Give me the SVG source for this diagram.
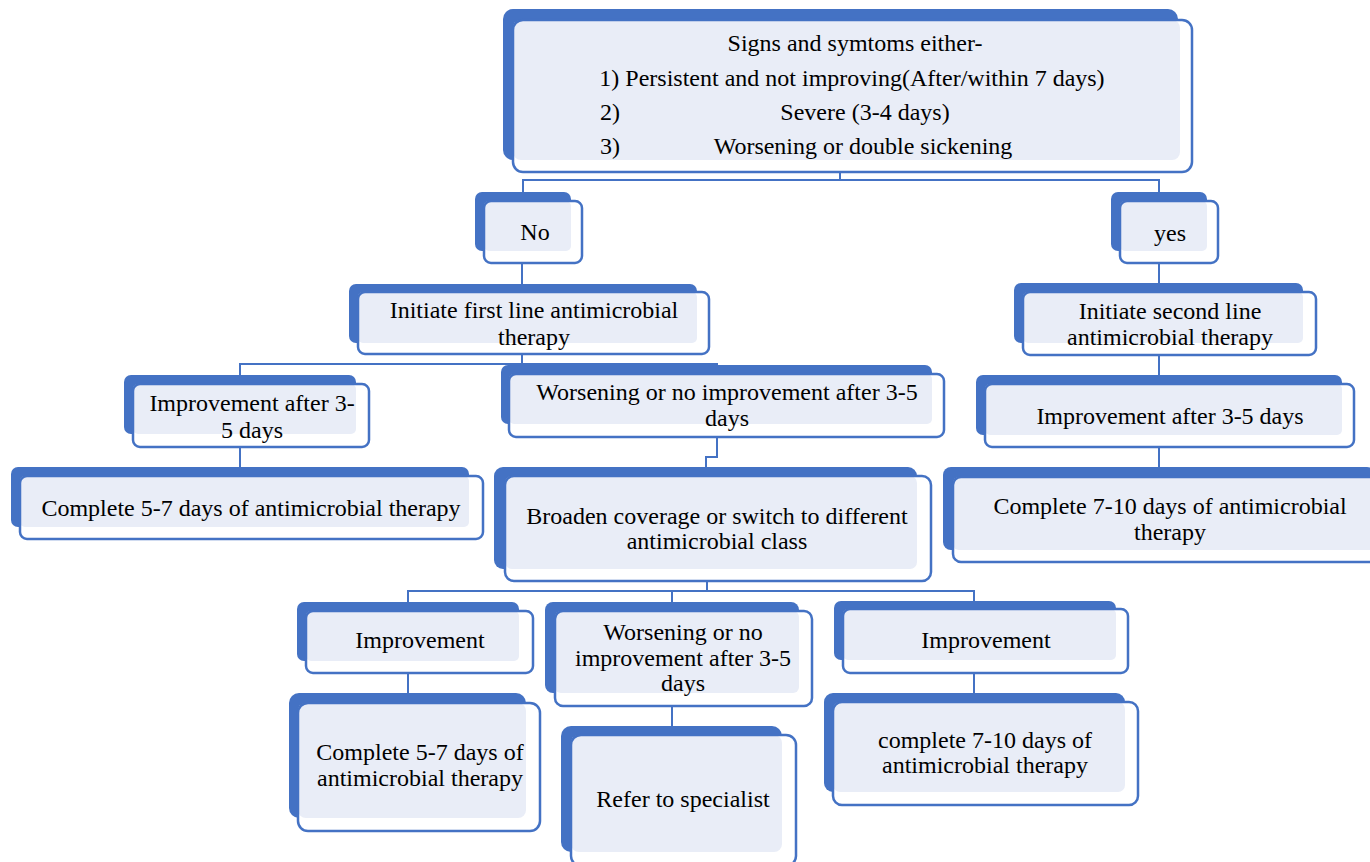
<svg xmlns="http://www.w3.org/2000/svg" width="1370" height="862" viewBox="0 0 1370 862">
  <style>
    .back { fill: #4472C4; }
    .face { fill: #FFFFFF; }
    .tint { fill: #E9EDF7; }
    .edge { fill: none; stroke: #4472C4; stroke-width: 2.5; }
    .link { fill: none; stroke: #4472C4; stroke-width: 2; }
    text { font-family: 'Liberation Serif', 'DejaVu Serif', serif; font-size: 24px; fill: #000000; text-anchor: middle; }
    text.l { text-anchor: start; }
  </style>
  <rect width="1370" height="862" fill="#FFFFFF"/>

  <!-- connectors -->
  <g id="connectors">
    <path class="link" d="M840,172 V180 M523,192 V180 H1159 V192"/>
    <path class="link" d="M522,263 V284"/>
    <path class="link" d="M1159,263 V283"/>
    <path class="link" d="M522,354 V364 M240,375 V364 H717 V366"/>
    <path class="link" d="M240,447 V467"/>
    <path class="link" d="M717,437 V457 H706 V467"/>
    <path class="link" d="M1159,355 V375"/>
    <path class="link" d="M1159,447 V467"/>
    <path class="link" d="M707,581 V591 M408,602 V591 H974 V601 M672,591 V602"/>
    <path class="link" d="M408,673 V693"/>
    <path class="link" d="M672,706 V726"/>
    <path class="link" d="M974,673 V693"/>
  </g>

  <!-- each node: solid backing card, white face card, tinted overlap, outline -->
  <g id="n-signs">
    <rect class="back" x="503" y="9" width="675" height="151" rx="10"/>
    <rect class="face" x="513" y="20" width="679" height="152" rx="10"/>
    <rect class="tint" x="513" y="20" width="667" height="140" rx="8"/>
    <rect class="edge" x="513" y="20" width="679" height="152" rx="10"/>
    <text x="855" y="51">Signs and symtoms either-</text>
    <text x="852" y="86">1) Persistent and not improving(After/within 7 days)</text>
    <text class="l" x="600" y="120">2)</text>
    <text x="865" y="120">Severe (3-4 days)</text>
    <text class="l" x="600" y="154">3)</text>
    <text x="863" y="154">Worsening or double sickening</text>
  </g>

  <g id="n-no">
    <rect class="back" x="475" y="192" width="96" height="59" rx="7"/>
    <rect class="face" x="484" y="201" width="98" height="62" rx="7"/>
    <rect class="tint" x="484" y="201" width="87" height="50" rx="5"/>
    <rect class="edge" x="484" y="201" width="98" height="62" rx="7"/>
    <text x="535" y="240">No</text>
  </g>

  <g id="n-yes">
    <rect class="back" x="1111" y="192" width="96" height="59" rx="7"/>
    <rect class="face" x="1120" y="201" width="98" height="62" rx="7"/>
    <rect class="tint" x="1120" y="201" width="87" height="50" rx="5"/>
    <rect class="edge" x="1120" y="201" width="98" height="62" rx="7"/>
    <text x="1170" y="241">yes</text>
  </g>

  <g id="n-first-line">
    <rect class="back" x="349" y="284" width="348" height="59" rx="7"/>
    <rect class="face" x="358" y="292" width="351" height="62" rx="7"/>
    <rect class="tint" x="358" y="292" width="339" height="51" rx="5"/>
    <rect class="edge" x="358" y="292" width="351" height="62" rx="7"/>
    <text x="534" y="318">Initiate first line antimicrobial</text>
    <text x="534" y="345">therapy</text>
  </g>

  <g id="n-second-line">
    <rect class="back" x="1014" y="283" width="289" height="60" rx="7"/>
    <rect class="face" x="1023" y="292" width="293" height="63" rx="7"/>
    <rect class="tint" x="1023" y="292" width="280" height="51" rx="5"/>
    <rect class="edge" x="1023" y="292" width="293" height="63" rx="7"/>
    <text x="1170" y="319">Initiate second line</text>
    <text x="1170" y="345">antimicrobial therapy</text>
  </g>

  <g id="n-improve-1">
    <rect class="back" x="124" y="375" width="232" height="59" rx="7"/>
    <rect class="face" x="133" y="384" width="236" height="63" rx="7"/>
    <rect class="tint" x="133" y="384" width="223" height="50" rx="5"/>
    <rect class="edge" x="133" y="384" width="236" height="63" rx="7"/>
    <text x="252" y="411">Improvement after 3-</text>
    <text x="252" y="438">5 days</text>
  </g>

  <g id="n-worse-1">
    <rect class="back" x="501" y="365" width="431" height="59" rx="7"/>
    <rect class="face" x="509" y="374" width="435" height="63" rx="7"/>
    <rect class="tint" x="509" y="374" width="423" height="50" rx="5"/>
    <rect class="edge" x="509" y="374" width="435" height="63" rx="7"/>
    <text x="727" y="400">Worsening or no improvement after 3-5</text>
    <text x="727" y="426">days</text>
  </g>

  <g id="n-improve-2">
    <rect class="back" x="976" y="375" width="366" height="60" rx="7"/>
    <rect class="face" x="985" y="384" width="369" height="63" rx="7"/>
    <rect class="tint" x="985" y="384" width="357" height="51" rx="5"/>
    <rect class="edge" x="985" y="384" width="369" height="63" rx="7"/>
    <text x="1170" y="424">Improvement after 3-5 days</text>
  </g>

  <g id="n-complete-5-7-a">
    <rect class="back" x="11" y="467" width="458" height="60" rx="7"/>
    <rect class="face" x="20" y="476" width="463" height="63" rx="7"/>
    <rect class="tint" x="20" y="476" width="449" height="51" rx="5"/>
    <rect class="edge" x="20" y="476" width="463" height="63" rx="7"/>
    <text x="251" y="516">Complete 5-7 days of antimicrobial therapy</text>
  </g>

  <g id="n-broaden">
    <rect class="back" x="494" y="467" width="423" height="102" rx="9"/>
    <rect class="face" x="505" y="476" width="426" height="105" rx="9"/>
    <rect class="tint" x="505" y="476" width="412" height="93" rx="7"/>
    <rect class="edge" x="505" y="476" width="426" height="105" rx="9"/>
    <text x="717" y="524">Broaden coverage or switch to different</text>
    <text x="717" y="549">antimicrobial class</text>
  </g>

  <g id="n-complete-7-10-a">
    <rect class="back" x="943" y="467" width="432" height="83" rx="8"/>
    <rect class="face" x="953" y="477" width="424" height="85" rx="8"/>
    <rect class="tint" x="953" y="477" width="422" height="73" rx="6"/>
    <rect class="edge" x="953" y="477" width="424" height="85" rx="8"/>
    <text x="1170" y="514">Complete 7-10 days of antimicrobial</text>
    <text x="1170" y="540">therapy</text>
  </g>

  <g id="n-improve-3">
    <rect class="back" x="297" y="602" width="222" height="59" rx="7"/>
    <rect class="face" x="306" y="611" width="227" height="62" rx="7"/>
    <rect class="tint" x="306" y="611" width="213" height="50" rx="5"/>
    <rect class="edge" x="306" y="611" width="227" height="62" rx="7"/>
    <text x="420" y="648">Improvement</text>
  </g>

  <g id="n-worse-2">
    <rect class="back" x="545" y="602" width="254" height="91" rx="8"/>
    <rect class="face" x="555" y="611" width="257" height="95" rx="8"/>
    <rect class="tint" x="555" y="611" width="244" height="82" rx="6"/>
    <rect class="edge" x="555" y="611" width="257" height="95" rx="8"/>
    <text x="683" y="640">Worsening or no</text>
    <text x="683" y="666">improvement after 3-5</text>
    <text x="683" y="691">days</text>
  </g>

  <g id="n-improve-4">
    <rect class="back" x="834" y="601" width="282" height="59" rx="7"/>
    <rect class="face" x="843" y="609" width="285" height="64" rx="7"/>
    <rect class="tint" x="843" y="609" width="273" height="51" rx="5"/>
    <rect class="edge" x="843" y="609" width="285" height="64" rx="7"/>
    <text x="986" y="648">Improvement</text>
  </g>

  <g id="n-complete-5-7-b">
    <rect class="back" x="289" y="693" width="237" height="125" rx="10"/>
    <rect class="face" x="298" y="703" width="242" height="128" rx="10"/>
    <rect class="tint" x="298" y="703" width="228" height="115" rx="8"/>
    <rect class="edge" x="298" y="703" width="242" height="128" rx="10"/>
    <text x="420" y="760">Complete 5-7 days of</text>
    <text x="420" y="786">antimicrobial therapy</text>
  </g>

  <g id="n-specialist">
    <rect class="back" x="561" y="726" width="221" height="126" rx="10"/>
    <rect class="face" x="571" y="735" width="225" height="131" rx="10"/>
    <rect class="tint" x="571" y="735" width="211" height="117" rx="8"/>
    <rect class="edge" x="571" y="735" width="225" height="131" rx="10"/>
    <text x="683" y="807">Refer to specialist</text>
  </g>

  <g id="n-complete-7-10-b">
    <rect class="back" x="824" y="693" width="301" height="99" rx="9"/>
    <rect class="face" x="833" y="702" width="305" height="103" rx="9"/>
    <rect class="tint" x="833" y="702" width="292" height="90" rx="7"/>
    <rect class="edge" x="833" y="702" width="305" height="103" rx="9"/>
    <text x="985" y="748">complete 7-10 days of</text>
    <text x="985" y="773">antimicrobial therapy</text>
  </g>
</svg>
